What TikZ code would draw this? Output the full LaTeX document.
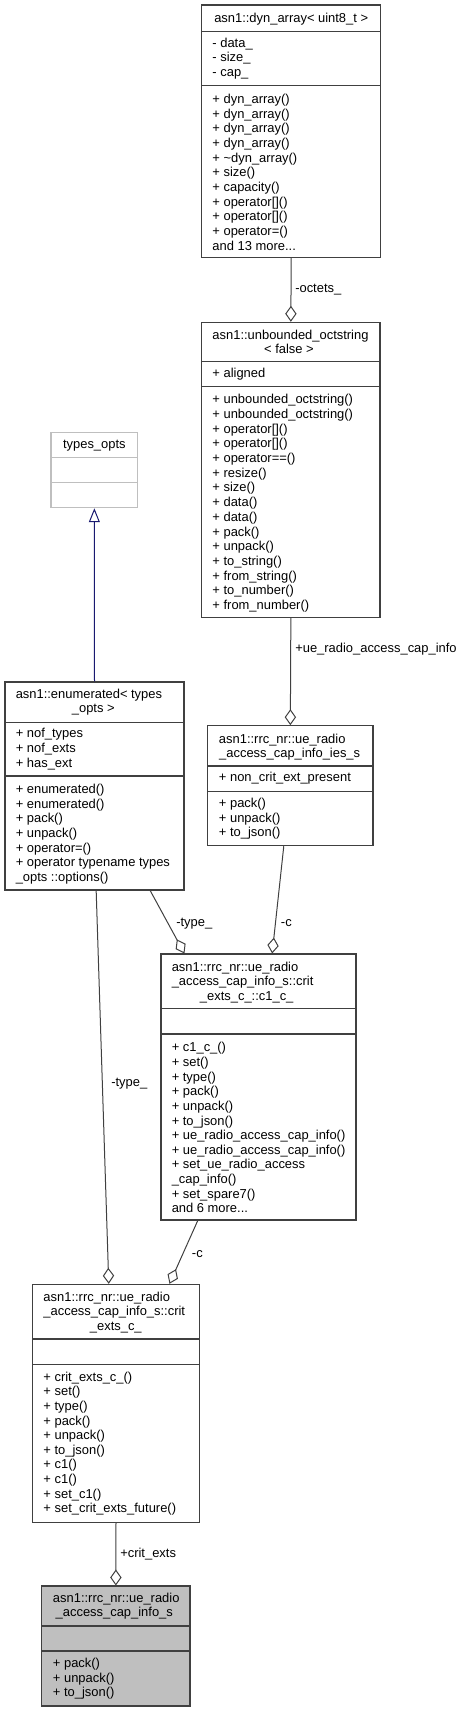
\documentclass[tikz,border=0pt]{standalone}
\usepackage{fontspec}
\setmainfont{Liberation Sans}
\usetikzlibrary{arrows.meta,calc,fit}
\definecolor{edgec}{HTML}{404040}
\definecolor{inhc}{HTML}{191970}
\definecolor{greyc}{HTML}{BFBFBF}
\newcommand\umlmembers[5]{\foreach \mtext [count=\i from 0] in {#5} {\node[mem] (#1\i) at (#2,{#3+\i*#4}) {\mtext};}}
\newcommand\threedots{...}
\begin{document}
\begin{tikzpicture}[x=0.75pt,y=-0.75pt,
  every node/.style={font=\fontsize{9.7}{11}\selectfont},
  cls/.style={draw=edgec, line width=0.8pt, inner sep=0pt, fill=white},
  sep/.style={draw=edgec, line width=0.8pt},
  mem/.style={anchor=base west, inner sep=0pt},
  ttl/.style={anchor=base, inner sep=0pt},
  ttll/.style={anchor=base west, inner sep=0pt},
  lbl/.style={anchor=base west, inner sep=0pt},
  agg/.style={draw=edgec, line width=0.75pt, arrows={Diamond[open,length=12pt,width=8.5pt]-}},
  inh/.style={draw=inhc, line width=0.75pt, arrows={-Triangle[open,length=10.5pt,width=8.25pt]}}]
\useasboundingbox (0,0) rectangle (463,1712);

% ---- dyn_array
\node[cls, fit={(201.7,5) (380.7,257.3)}] (dyn) {};
\draw[sep] (201.7,31.7) -- (380.7,31.7);
\draw[sep] (201.7,85.7) -- (380.7,85.7);
\node[ttl] (dynt) at (291.2,22.8) {asn1::dyn\_array< uint8\_t >};
\umlmembers{dyna}{212.2}{47.8}{14.2}{- data\_, - size\_, - cap\_}
\umlmembers{dynm}{212.2}{103.5}{14.67}{+ dyn\_array(), + dyn\_array(), + dyn\_array(), + dyn\_array(), + \textasciitilde dyn\_array(), + size(), + capacity(), + operator[](), + operator[](), + operator=(), and 13 more\threedots}

% ---- unbounded_octstring
\node[cls, fit={(201.7,322.3) (380,617.3)}] (unb) {};
\draw[sep] (201.7,361.7) -- (380,361.7);
\draw[sep] (201.7,386.7) -- (380,386.7);
\node[ttll] (unbt1) at (212.2,339.5) {asn1::unbounded\_octstring};
\node[ttl] (unbt2) at (289,353.5) {< false >};
\umlmembers{unba}{212.2}{377.8}{14.6}{+ aligned}
\umlmembers{unbm}{212.2}{403.8}{14.69}{+ unbounded\_octstring(), + unbounded\_octstring(), + operator[](), + operator[](), + operator==(), + resize(), + size(), + data(), + data(), + pack(), + unpack(), + to\_string(), + from\_string(), + to\_number(), + from\_number()}

% ---- types_opts
\node[cls, draw=greyc, fit={(51,432.3) (137.7,507.7)}] (types) {};
\draw[sep, draw=greyc] (51,457.3) -- (137.7,457.3);
\draw[sep, draw=greyc] (51,482.3) -- (137.7,482.3);
\node[ttl] (typest) at (94.35,448.5) {types\_opts};

% ---- enumerated
\node[cls, fit={(5,682) (184,890)}] (enum) {};
\draw[sep] (5,722.3) -- (184,722.3);
\draw[sep] (5,776) -- (184,776);
\node[ttll] (enumt1) at (15.5,698.5) {asn1::enumerated< types};
\node[ttl] (enumt2) at (93.3,712.8) {\_opts >};
\umlmembers{enuma}{15.5}{737.8}{14.7}{+ nof\_types, + nof\_exts, + has\_ext}
\umlmembers{enumm}{15.5}{793.8}{14.57}{+ enumerated(), + enumerated(), + pack(), + unpack(), + operator=(), + operator typename types, \_opts ::options()}

% ---- ue_radio_access_cap_info_ies_s
\node[cls, fit={(207.7,725.7) (373,845.7)}] (ies) {};
\draw[sep] (207.7,766) -- (373,766);
\draw[sep] (207.7,791.3) -- (373,791.3);
\node[ttll] (iest1) at (218.7,743.5) {asn1::rrc\_nr::ue\_radio};
\node[ttl] (iest2) at (289.7,757.2) {\_access\_cap\_info\_ies\_s};
\umlmembers{iesa}{218.7}{781.8}{14.6}{+ non\_crit\_ext\_present}
\umlmembers{iesm}{218.7}{807.8}{14.5}{+ pack(), + unpack(), + to\_json()}

% ---- c1_c_
\node[cls, fit={(161,954) (356,1220)}] (c1) {};
\draw[sep] (161,1008.3) -- (356,1008.3);
\draw[sep] (161,1034) -- (356,1034);
\node[ttll] (c1t1) at (171.5,971) {asn1::rrc\_nr::ue\_radio};
\node[ttll] (c1t2) at (171.5,985.6) {\_access\_cap\_info\_s::crit};
\node[ttl] (c1t3) at (246.7,1000.2) {\_exts\_c\_::c1\_c\_};
\umlmembers{c1m}{171.5}{1051.8}{14.64}{+ c1\_c\_(), + set(), + type(), + pack(), + unpack(), + to\_json(), + ue\_radio\_access\_cap\_info(), + ue\_radio\_access\_cap\_info(), + set\_ue\_radio\_access, \_cap\_info(), + set\_spare7(), and 6 more\threedots}

% ---- crit_exts_c_
\node[cls, fit={(32.7,1284.3) (199.3,1522.3)}] (crit) {};
\draw[sep] (32.7,1339) -- (199.3,1339);
\draw[sep] (32.7,1364.3) -- (199.3,1364.3);
\node[ttll] (critt1) at (43.2,1301.2) {asn1::rrc\_nr::ue\_radio};
\node[ttll] (critt2) at (43.2,1315.8) {\_access\_cap\_info\_s::crit};
\node[ttl] (critt3) at (115.8,1330.4) {\_exts\_c\_};
\umlmembers{critm}{43.2}{1381.2}{14.63}{+ crit\_exts\_c\_(), + set(), + type(), + pack(), + unpack(), + to\_json(), + c1(), + c1(), + set\_c1(), + set\_crit\_exts\_future()}

% ---- main class
\node[cls, fill=greyc, fit={(41.7,1586) (190,1706)}] (main) {};
\draw[sep] (41.7,1626) -- (190,1626);
\draw[sep] (41.7,1651) -- (190,1651);
\node[ttll] (maint1) at (52.7,1602.8) {asn1::rrc\_nr::ue\_radio};
\node[ttl] (maint2) at (114.3,1616.8) {\_access\_cap\_info\_s};
\umlmembers{mainm}{52.7}{1667.8}{14.5}{+ pack(), + unpack(), + to\_json()}

% ---- connector end points
\coordinate (enumL) at ($(enum.south west)+(91.7,0)$);
\coordinate (enumR) at ($(enum.south west)+(145.7,0)$);
\coordinate (iesB) at ($(ies.south west)+(76.6,0)$);
\coordinate (c1B) at ($(c1.south west)+(37.3,0)$);
\coordinate (c1T1) at ($(c1.north west)+(24,0)$);
\coordinate (c1T2) at ($(c1.north west)+(111.7,0)$);
\coordinate (crT1) at ($(crit.north west)+(76.6,0)$);
\coordinate (crT2) at ($(crit.north west)+(137.3,0)$);

% ---- connectors
\draw[agg] (unb.north) -- (dyn.south);
\draw[agg] (ies.north) -- (unb.south);
\draw[inh] (enum.north) -- (types.south);
\draw[agg] (c1T1) -- (enumR);
\draw[agg] (c1T2) -- (iesB);
\draw[agg] (crT1) -- (enumL);
\draw[agg] (crT2) -- (c1B);
\draw[agg] (main.north) -- (crit.south);

% ---- connector labels
\node[lbl] (l1) at (295,292.8) {-octets\_};
\node[lbl] (l2) at (295,652.8) {+ue\_radio\_access\_cap\_info};
\node[lbl] (l3) at (176,926.2) {-type\_};
\node[lbl] (l4) at (280.7,926.2) {-c};
\node[lbl] (l5) at (111,1086.2) {-type\_};
\node[lbl] (l6) at (191.7,1257.2) {-c};
\node[lbl] (l7) at (120,1557.2) {+crit\_exts};
\end{tikzpicture}
\end{document}
